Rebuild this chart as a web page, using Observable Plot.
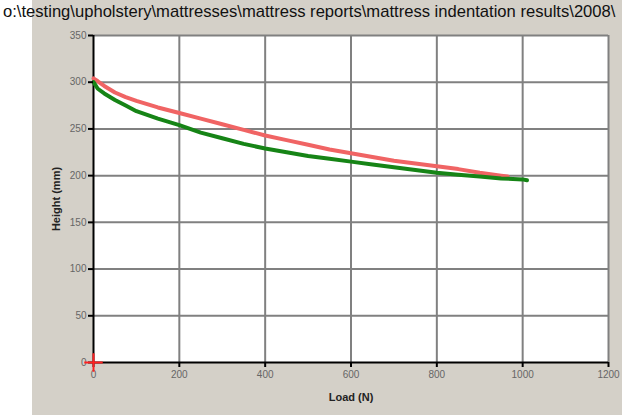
<!DOCTYPE html>
<html><head><meta charset="utf-8">
<script src="https://cdn.jsdelivr.net/npm/d3@7"></script>
<script src="https://cdn.jsdelivr.net/npm/@observablehq/plot@0.6"></script>
<style>
body{margin:0;background:#fff;}
#wrap{position:relative;width:622px;height:417px;overflow:hidden;font-family:"Liberation Sans",Arial,sans-serif;}
#panel{position:absolute;left:32px;top:0;width:590px;height:415px;background:#d4d0c8;}
#title{position:absolute;left:3px;top:3px;font-size:16.6px;white-space:nowrap;color:#111;line-height:18px;}
#chart{position:absolute;left:0;top:0;}
#chart svg g[aria-label="y-axis tick label"] text,
#chart svg g[aria-label="x-axis tick label"] text{fill:#666;}
#chart svg g[aria-label="y-axis label"] text,
#chart svg g[aria-label="x-axis label"] text{font-weight:bold;font-size:11px;fill:#222;}
</style></head>
<body>
<div id="wrap"><div id="panel"></div><div id="chart"></div><div id="title"></div></div>
<script>
const title = "o:\\testing\\upholstery\\mattresses\\mattress reports\\mattress indentation results\\2008\\";
const xTicks = [0, 200, 400, 600, 800, 1000, 1200];
const yTicks = [0, 50, 100, 150, 200, 250, 300, 350];
const redLoad = [0, 10, 25, 50, 75, 100, 150, 200, 250, 300, 350, 400, 450, 500, 550, 600, 650, 700, 750, 800, 850, 900, 950, 965];
const redHeight = [304, 301, 296, 289, 284, 280, 273, 267, 261, 255, 249, 243, 238, 233, 228, 224, 220, 216, 213, 210, 207, 203, 200, 199];
const greenLoad = [0, 10, 25, 50, 75, 100, 150, 200, 250, 300, 350, 400, 450, 500, 550, 600, 650, 700, 750, 800, 850, 900, 950, 1000, 1010];
const greenHeight = [300, 293, 288, 281, 275, 269, 261, 254, 246, 240, 234, 229, 225, 221, 218, 215, 212, 209, 206, 203, 201, 199, 197, 196, 195];
const origin = [{x: 0, y: 0}];

document.getElementById("title").textContent = title;
const red = redLoad.map((x, i) => ({x, y: redHeight[i]}));
const green = greenLoad.map((x, i) => ({x, y: greenHeight[i]}));

const chart = Plot.plot({
  width: 622, height: 417,
  marginLeft: 93, marginRight: 14, marginTop: 35, marginBottom: 55,
  style: {background: "transparent", fontFamily: "'Liberation Sans', Arial, sans-serif", fontSize: "10px"},
  x: {domain: [0, 1200]},
  y: {domain: [0, 350]},
  marks: [
    Plot.frame({fill: "white"}),
    Plot.gridX(xTicks.filter(d => d > 0), {stroke: "#808080", strokeOpacity: 1, strokeWidth: 2}),
    Plot.gridY(yTicks.filter(d => d > 0), {stroke: "#808080", strokeOpacity: 1, strokeWidth: 2}),
    Plot.ruleX([0], {stroke: "#000", strokeWidth: 2}),
    Plot.ruleY([0], {stroke: "#000", strokeWidth: 2}),
    Plot.line(red, {x: "x", y: "y", stroke: "#f06464", strokeWidth: 4}),
    Plot.line(green, {x: "x", y: "y", stroke: "#168416", strokeWidth: 4}),
    Plot.axisY({ticks: yTicks, tickFormat: d => String(d), tickSize: 5, tickPadding: 2, stroke: "#000", strokeWidth: 2, label: "Height (mm)", labelAnchor: "center", labelArrow: "none", labelOffset: 41}),
    Plot.axisX({ticks: xTicks, tickFormat: d => String(d), tickSize: 5, tickPadding: 3, stroke: "#000", strokeWidth: 2, label: "Load (N)", labelAnchor: "center", labelArrow: "none", labelOffset: 38}),
    Plot.dot(origin, {x: "x", y: "y", symbol: "plus", stroke: "#ff2020", strokeWidth: 2, r: 6})
  ]
});
document.getElementById("chart").appendChild(chart);
</script>
</body></html>
